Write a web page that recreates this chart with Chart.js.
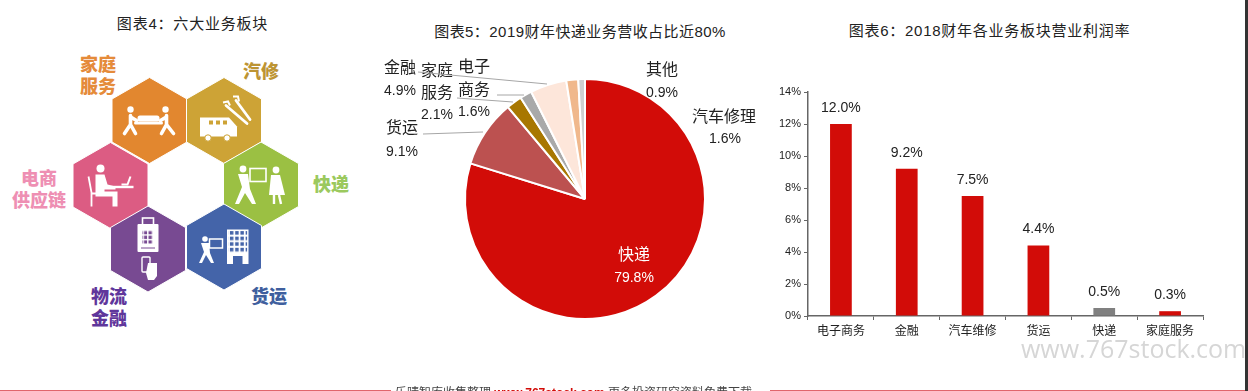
<!DOCTYPE html>
<html><head><meta charset="utf-8">
<script src="https://cdn.jsdelivr.net/npm/chart.js@4"></script>
<style>
html,body{margin:0;padding:0;background:#fff;width:1248px;height:391px;overflow:hidden;position:relative;font-family:"Liberation Sans","Noto Sans CJK SC",sans-serif}
.t{position:absolute;white-space:nowrap;transform:translate(-50%,-50%);line-height:1}
.title{font-size:15px;color:#222;font-weight:400}
.hl{font-size:18px;font-weight:900;font-family:"Noto Sans CJK SC",sans-serif}
canvas{position:absolute;top:0}
#wm{position:absolute;left:1021px;top:331px;font:25px "Open Sans",sans-serif;color:#d6d6d6;white-space:nowrap;line-height:34px}
#foot{position:absolute;left:395px;top:386px;font-size:12px;color:#444;white-space:nowrap;line-height:14px}
#foot b{color:#d20c08;font-weight:700}
.rl{position:absolute;top:390px;height:1px;background:#e0666c}
#edge{position:absolute;left:1245px;top:0;width:3px;height:391px;background:#333}
svg{position:absolute;left:0;top:0}
</style></head><body>
<svg width="380" height="340" viewBox="0 0 380 340">
<defs>
<g id="hex"><polygon points="0,-43 37.5,-21.5 37.5,21.5 0,43 -37.5,21.5 -37.5,-21.5" stroke="#fff" stroke-width="1"/></g>
<pattern id="win" width="5.2" height="5.6" patternUnits="userSpaceOnUse"><rect x=".8" y=".8" width="3.4" height="3.6" fill="#4464a9"/></pattern>
<pattern id="keys" width="4.6" height="4.6" patternUnits="userSpaceOnUse"><rect x=".5" y=".5" width="3.2" height="3.2" fill="#784a92"/></pattern>
</defs>
<!-- home services -->
<g transform="translate(149.5,120.5)"><use href="#hex" fill="#e2872f"/>
<g stroke="#fff" fill="none" stroke-linecap="round" stroke-width="3.6">
<circle cx="-19" cy="-11" r="3.2" fill="#fff" stroke="none"/><circle cx="16" cy="-11" r="3.2" fill="#fff" stroke="none"/>
<path d="M-19-5-19 4-25 13M-19 4-14 13M-18-3-13 0"/><path d="M17-5 17 4 12 13M17 4 24 13M16-3 11 0"/>
<rect x="-12" y="-5" width="22" height="6" rx="2.5" fill="#fff" stroke="none"/><path d="M-14 2.500H12" stroke-width="3"/></g></g>
<!-- auto repair -->
<g transform="translate(224,120.5)"><use href="#hex" fill="#cda336"/>
<path d="M-24-3H5L13 6V16H-24Z" fill="#fff"/><rect x="-15" y="0" width="4" height="4" fill="#cda336"/><rect x="-8" y="0" width="4" height="4" fill="#cda336"/><rect x="-1" y="0" width="4" height="4" fill="#cda336"/>
<circle cx="-16" cy="17.5" r="3.2" fill="#fff" stroke="#cda336"/><circle cx="3" cy="17.5" r="3.2" fill="#fff" stroke="#cda336"/>
<path d="M2-15 23 3M12-20 26-1" stroke="#fff" stroke-width="2.8" stroke-linecap="round"/>
<path d="M-1-18 4-19 6-15M9-24 14-24 15-19" stroke="#fff" stroke-width="2" fill="none"/></g>
<!-- e-commerce -->
<g transform="translate(110.5,185.5)"><use href="#hex" fill="#dc5c83"/>
<circle cx="-10" cy="-17" r="4" fill="#fff"/>
<path d="M-15-11H-6L-3-1 5 1V4H-6V6H7V21H2V11H-15Z" fill="#fff"/>
<path d="M-22-9-19 7V21M-19 8H-14" stroke="#fff" stroke-width="1.8" fill="none"/>
<path d="M-1 1.5H23" stroke="#fff" stroke-width="2.4"/><path d="M11-1H17L20-9" stroke="#fff" stroke-width="2" fill="none"/></g>
<!-- express -->
<g transform="translate(261,185)"><use href="#hex" fill="#9bc043"/>
<circle cx="-18" cy="-16" r="3.4" fill="#fff"/><circle cx="15" cy="-15" r="3.4" fill="#fff"/>
<path d="M-23-11-13-11-11 4-5 19H-9L-16 8-22 19H-26L-19 2Z" fill="#fff"/>
<rect x="-11" y="-16.500" width="16" height="13" fill="#9bc043" stroke="#fff" stroke-width="1.6"/>
<path d="M10-10H19L24 10H8Z" fill="#fff"/><path d="M13 10V19M18 10 20 19" stroke="#fff" stroke-width="2.4"/></g>
<!-- fin -->
<g transform="translate(148,249)"><use href="#hex" fill="#784a92"/>
<rect x="-5.500" y="-31" width="11" height="8" fill="none" stroke="#fff" stroke-width="1.6"/>
<rect x="-10.500" y="-25" width="21" height="28" rx="1" fill="#fff"/>
<rect x="-6" y="-19" width="11" height="14" fill="url(#keys)"/><path d="M-7-1H7" stroke="#784a92" stroke-width="1"/>
<rect x="-6" y="8" width="8" height="15" rx="1" fill="none" stroke="#fff" stroke-width="1.4"/>
<path d="M0 14H9V27L6 31H0L-2 24Z" fill="#fff"/></g>
<!-- freight -->
<g transform="translate(224,247)"><use href="#hex" fill="#4464a9"/>
<rect x="3" y="-17.500" width="21.500" height="34.500" fill="#fff"/>
<rect x="4.600" y="-16" width="18.500" height="22" fill="url(#win)"/><rect x="9" y="9" width="9.500" height="8" fill="#4464a9"/>
<circle cx="-19" cy="-8" r="2.800" fill="#fff"/><path d="M-23-4H-15L-14 6-10 16H-13L-18 8-22 16H-25L-20 5Z" fill="#fff"/>
<rect x="-14.500" y="-8" width="13" height="9" fill="none" stroke="#fff" stroke-width="1.500"/></g>
</svg>

<div class="t title" style="left:192.500px;top:23px;letter-spacing:.8px">图表4：六大业务板块</div>
<div class="t title" style="left:580px;top:30.500px;letter-spacing:.45px">图表5：2019财年快递业务营收占比近80%</div>
<div class="t title" style="left:989.500px;top:30px;letter-spacing:.75px">图表6：2018财年各业务板块营业利润率</div>

<div class="t hl" style="left:98px;top:63px;color:#e58b3a">家庭</div><div class="t hl" style="left:98px;top:84.500px;color:#e58b3a">服务</div>
<div class="t hl" style="left:261px;top:70px;color:#bd9433">汽修</div>
<div class="t hl" style="left:331px;top:183px;color:#9bc95e">快递</div>
<div class="t hl" style="left:39px;top:177px;color:#ee8fb3">电商</div><div class="t hl" style="left:39px;top:198.500px;color:#ee8fb3">供应链</div>
<div class="t hl" style="left:109px;top:295px;color:#5f369b">物流</div><div class="t hl" style="left:109px;top:317px;color:#5f369b">金融</div>
<div class="t hl" style="left:269px;top:295px;color:#3f5f9e">货运</div>

<canvas id="pie" width="400" height="391" style="left:370px;width:400px;height:391px"></canvas>
<canvas id="bar" width="475" height="391" style="left:770px;width:475px;height:391px"></canvas>

<div id="wm">www.767stock.com</div>
<div class="rl" style="left:0;width:391px"></div><div class="rl" style="left:770px;width:475px"></div>
<div id="foot">乐晴智库收集整理 <b>www.767stock.com</b> 更多投资研究资料免费下载</div>
<div id="edge"></div>

<script>
// ---- pie data ----
const pieCategories = ['快递','货运','家庭服务','电子商务','金融','汽车修理','其他'];
const pieValues = [79.8, 9.1, 2.1, 1.6, 4.9, 1.6, 0.9];
const pieColors = ['#d20c08','#bc5150','#a87700','#a9a9a9','#fde6da','#f0b88c','#cfcfcf'];
// ---- bar data ----
const barCategories = ['电子商务','金融','汽车维修','货运','快递','家庭服务'];
const barValues = [12.0, 9.2, 7.5, 4.4, 0.5, 0.3];
const barColors = ['#d20c08','#d20c08','#d20c08','#d20c08','#808080','#d20c08'];
const yTicks = [0,2,4,6,8,10,12,14];

const FONT = '"Liberation Sans","Noto Sans CJK SC",sans-serif';
// label placement (canvas px) per pie slice index: text lines' centres and leader line
const pieLayout = {
  0:{lines:[['快递',264,256],['$',264,278]],color:'#fff'},
  1:{lines:[['货运',32,129],['$',32,152]],leader:[53,134,113,132]},
  2:{lines:[['家庭',67,72],['服务',67,94],['$',67,115]],leader:[87,98,143,102]},
  3:{lines:[['电子',104,68],['商务',104,91],['$',104,112]],leader:[127,95,154,95]},
  4:{lines:[['金融',30,69],['$',30,91]],leader:[48,72,177,84]},
  5:{lines:[['汽车修理',354,118],['$',355,139]]},
  6:{lines:[['其他',292,71],['$',292,93]]}
};
const pieLabels = {
  id:'pieLabels',
  afterDatasetsDraw(c){
    const x=c.ctx; x.save();
    x.textAlign='center'; x.textBaseline='middle';
    pieValues.forEach((v,i)=>{
      const L=pieLayout[i];
      if(L.leader){const a=L.leader;x.strokeStyle='#a6a6a6';x.lineWidth=1;x.beginPath();x.moveTo(a[0],a[1]);x.lineTo(a[2],a[3]);x.stroke();}
      L.lines.forEach(l=>{
        const isVal=l[0]==='$';
        x.font=(isVal?'14px ':'16px ')+FONT;
        x.fillStyle=L.color||'#222';
        x.fillText(isVal?v.toFixed(1)+'%':l[0],l[1],l[2]);
      });
    });
    x.restore();
  }
};
new Chart(document.getElementById('pie'),{
  type:'pie',
  data:{labels:pieCategories,datasets:[{data:pieValues,backgroundColor:pieColors,borderColor:'#fff',borderWidth:2}]},
  options:{responsive:false,animation:false,
    layout:{padding:{left:94,right:64,top:78,bottom:71}},
    plugins:{legend:{display:false},tooltip:{enabled:false}}},
  plugins:[pieLabels]
});

const barLabels = {
  id:'barLabels',
  afterDatasetsDraw(c){
    const x=c.ctx; x.save();
    x.font='14px '+FONT; x.fillStyle='#222'; x.textAlign='center'; x.textBaseline='middle';
    c.getDatasetMeta(0).data.forEach((b,i)=>x.fillText(barValues[i].toFixed(1)+'%',b.x,b.y-16));
    x.restore();
  }
};
const AX='#666';
new Chart(document.getElementById('bar'),{
  type:'bar',
  data:{labels:barCategories,datasets:[{data:barValues,backgroundColor:barColors,barPercentage:.33,categoryPercentage:1}]},
  options:{responsive:false,animation:false,
    layout:{padding:{left:0,right:42,top:92,bottom:45}},
    plugins:{legend:{display:false},tooltip:{enabled:false}},
    scales:{
      x:{afterFit(s){s.height=30},
        grid:{drawOnChartArea:false,drawTicks:true,tickLength:4,tickColor:AX,lineWidth:1},
        border:{color:AX,width:1.500},
        ticks:{color:'#222',font:{size:12,family:FONT},padding:4,maxRotation:0,autoSkip:false}},
      y:{min:0,max:14,afterFit(s){s.width=38},
        afterBuildTicks(s){s.ticks=yTicks.map(v=>({value:v}))},
        grid:{drawOnChartArea:false,drawTicks:true,tickLength:4,tickColor:AX,lineWidth:1},
        border:{color:AX,width:1.500},
        ticks:{color:'#222',font:{size:11,family:FONT},padding:3,callback:v=>v+'%'}}
    }}
,plugins:[barLabels]});
</script>
</body></html>
